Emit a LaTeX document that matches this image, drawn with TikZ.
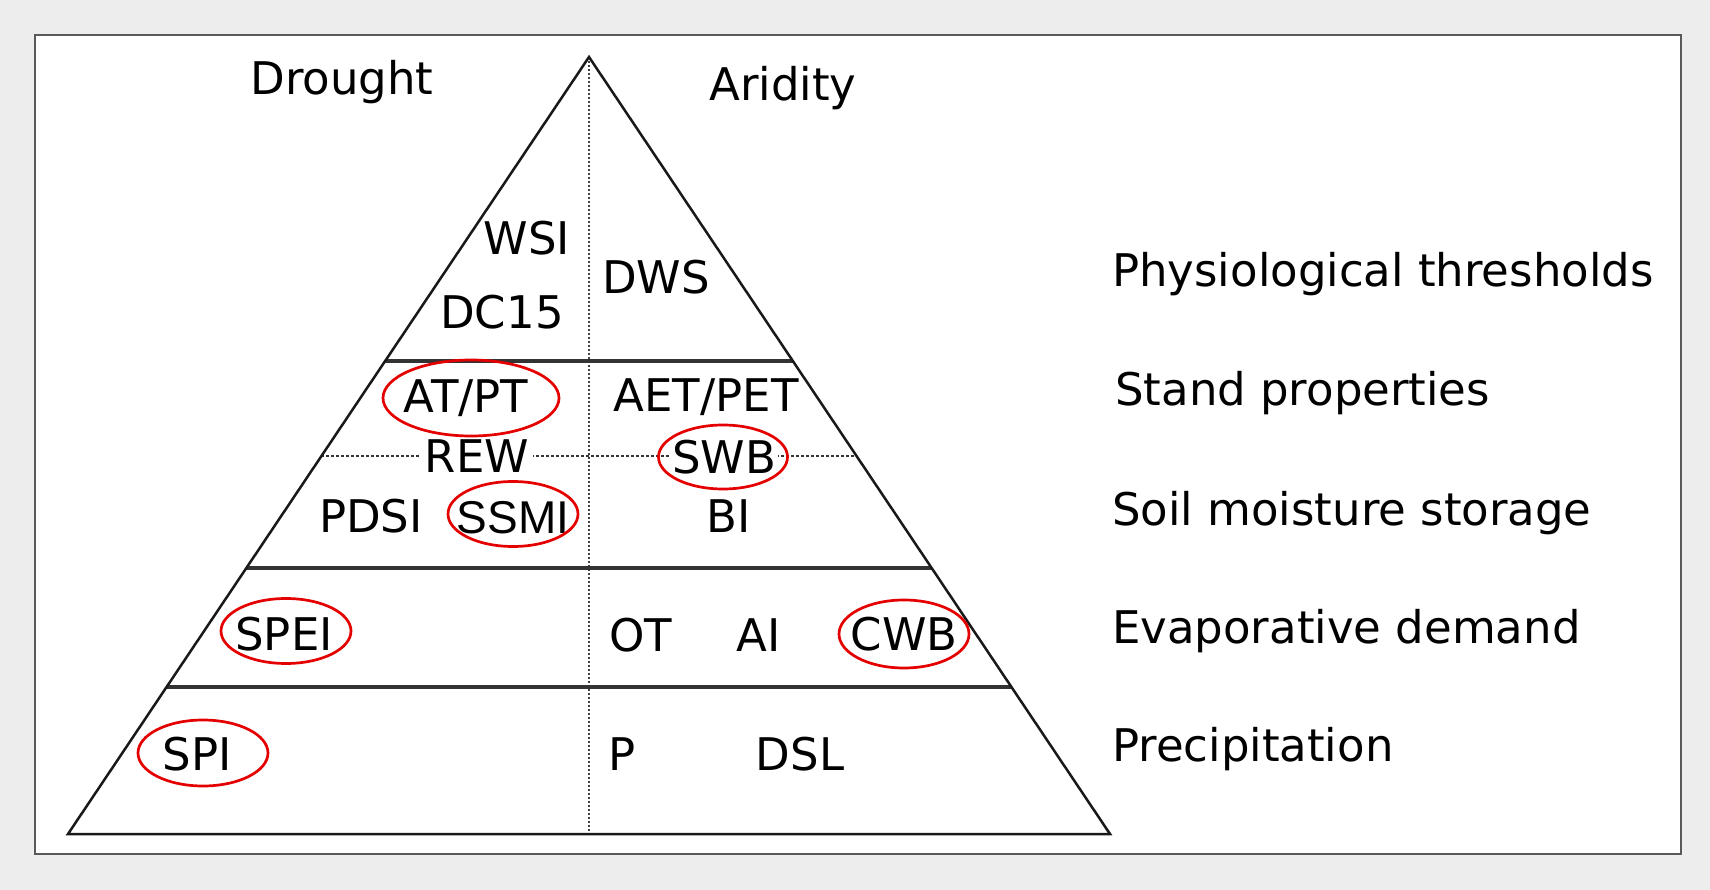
\documentclass[tikz,border=0pt]{standalone}
\usepackage{fontspec}
\setmainfont{DejaVu Sans}
\newfontfamily\arialfont{Liberation Sans}
\usetikzlibrary{shapes.geometric,calc}
\begin{document}
\begin{tikzpicture}[x=1pt,y=-1pt,
  lbl/.style={anchor=base, inner sep=0pt, text=black, font=\fontsize{45}{54}\selectfont},
  side/.style={anchor=base west, inner sep=0pt, text=black, font=\fontsize{45}{54}\selectfont},
  ring/.style={draw=red!90!black, line width=2.7pt, ellipse, inner sep=0pt},
  tri/.style={draw=black!90, line width=2.5pt, line join=miter},
  level/.style={draw=black!80, line width=3.5pt},
  vdot/.style={draw=black!75, line width=1.3pt, dash pattern=on 2pt off 2pt},
  hdot/.style={draw=black!80, line width=2pt, dash pattern=on 2.5pt off 2.5pt}
]
\useasboundingbox (0,0) rectangle (1710,890);
\fill[black!7] (0,0) rectangle (1710,890);
\draw[fill=white, draw=black!65, line width=2.2pt] (35,35) rectangle (1681,854);

% triangle geometry
\coordinate (apex) at (589,57);
\coordinate (bl) at (68,834);
\coordinate (br) at (1110,834);
\coordinate (bm) at (589,834);
\coordinate (l1) at ($(apex)!0.39125!(bl)$);
\coordinate (r1) at ($(apex)!0.39125!(br)$);
\coordinate (l2) at ($(apex)!0.65766!(bl)$);
\coordinate (r2) at ($(apex)!0.65766!(br)$);
\coordinate (l3) at ($(apex)!0.81081!(bl)$);
\coordinate (r3) at ($(apex)!0.81081!(br)$);
\coordinate (ld) at ($(apex)!0.51351!(bl)$);
\coordinate (rd) at ($(apex)!0.51351!(br)$);

\draw[vdot] (apex) -- (bm);
\draw[hdot] (ld) -- (rd);
\draw[level] (l1) -- (r1);
\draw[level] (l2) -- (r2);
\draw[level] (l3) -- (r3);
\draw[tri] (apex) -- (bl) -- (br) -- cycle;

% headings
\node[lbl] (drought) at (342,95) {Drought};
\node[lbl] (aridity) at (783,101) {Aridity};

% indices
\node[lbl] (wsi) at (527,255) {WSI};
\node[lbl] (dc15) at (502,329) {DC15};
\node[lbl] (dws) at (656,294) {DWS};
\node[lbl] (atpt) at (466,412) {AT/PT};
\node[lbl] (aetpet) at (706,411) {AET/PET};
\node[lbl, fill=white, inner xsep=4pt, inner ysep=0pt] (rew) at (477,472) {REW};
\node[lbl, fill=white, inner xsep=2pt, inner ysep=0pt] (swb) at (724,473) {SWB};
\node[lbl] (pdsi) at (371,532) {PDSI};
\node[lbl, font=\arialfont\fontsize{46}{54}\selectfont] (ssmi) at (513,533) {SSMI};
\node[lbl] (bi) at (729,532) {BI};
\node[lbl] (spei) at (284,650) {SPEI};
\node[lbl] (ot) at (641,651) {OT};
\node[lbl] (ai) at (759,651) {AI};
\node[lbl] (cwb) at (904,650) {CWB};
\node[lbl] (spi) at (197,770) {SPI};
\node[lbl] (p) at (622,770) {P};
\node[lbl] (dsl) at (800,770) {DSL};

% red rings
\node[ring, minimum width=176pt, minimum height=76pt] (ratpt) at (471,398) {};
\node[ring, minimum width=129pt, minimum height=64pt] (rswb) at (723,457) {};
\node[ring, minimum width=130pt, minimum height=65pt] (rssmi) at (513,514) {};
\node[ring, minimum width=130pt, minimum height=65pt] (rspei) at (286,631) {};
\node[ring, minimum width=130pt, minimum height=68pt] (rcwb) at (904,634) {};
\node[ring, minimum width=130pt, minimum height=66pt] (rspi) at (203,753) {};

% level names
\node[side] (phys) at (1112,287) {Physiological thresholds};
\node[side] (stand) at (1115,405) {Stand properties};
\node[side] (soil) at (1112,525) {Soil moisture storage};
\node[side] (evap) at (1112,643) {Evaporative demand};
\node[side] (prec) at (1112,761) {Precipitation};
\end{tikzpicture}
\end{document}
